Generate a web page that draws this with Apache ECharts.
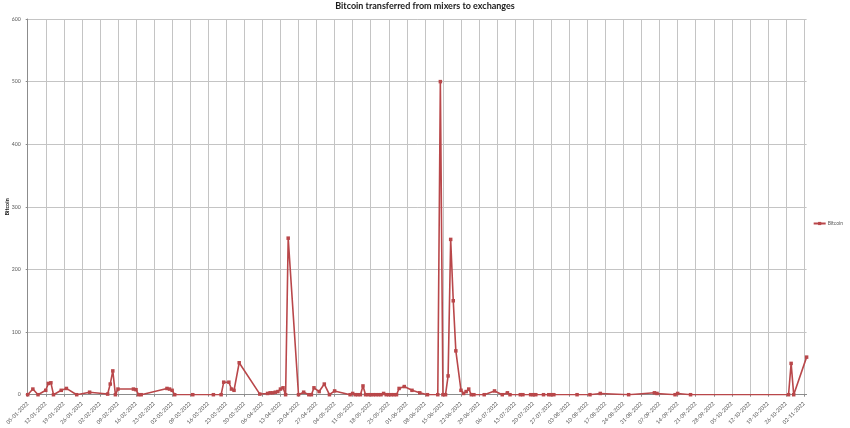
<!DOCTYPE html>
<html>
<head>
<meta charset="utf-8">
<script src="https://cdn.jsdelivr.net/npm/echarts@6/dist/echarts.min.js"></script>
<style>
html,body{margin:0;padding:0;background:#fff;}
#chart{width:850px;height:428px;}
</style>
</head>
<body>
<div id="chart"></div>
<script>
const titleText = 'Bitcoin transferred from mixers to exchanges';
const seriesName = 'Bitcoin';
const yTicks = [0, 100, 200, 300, 400, 500, 600];
const tickLabels = [
  '05-01-2022','12-01-2022','19-01-2022','26-01-2022','02-02-2022','09-02-2022','16-02-2022','23-02-2022',
  '02-03-2022','09-03-2022','16-03-2022','23-03-2022','30-03-2022','06-04-2022','13-04-2022','20-04-2022',
  '27-04-2022','04-05-2022','11-05-2022','18-05-2022','25-05-2022','01-06-2022','08-06-2022','15-06-2022',
  '22-06-2022','29-06-2022','06-07-2022','13-07-2022','20-07-2022','27-07-2022','03-08-2022','10-08-2022',
  '17-08-2022','24-08-2022','31-08-2022','07-09-2022','14-09-2022','21-09-2022','28-09-2022','05-10-2022',
  '12-10-2022','19-10-2022','26-10-2022','02-11-2022'
];
const dates = [
  '05-01-2022','07-01-2022','09-01-2022','12-01-2022','13-01-2022','14-01-2022','15-01-2022','18-01-2022',
  '20-01-2022','24-01-2022','29-01-2022','05-02-2022','06-02-2022','07-02-2022','08-02-2022','09-02-2022',
  '15-02-2022','16-02-2022','17-02-2022','18-02-2022','28-02-2022','01-03-2022','02-03-2022','03-03-2022',
  '10-03-2022','18-03-2022','21-03-2022','22-03-2022','24-03-2022','25-03-2022','26-03-2022','28-03-2022',
  '05-04-2022','08-04-2022','09-04-2022','10-04-2022','11-04-2022','12-04-2022','13-04-2022','14-04-2022',
  '15-04-2022','16-04-2022','20-04-2022','22-04-2022','24-04-2022','25-04-2022','26-04-2022','28-04-2022',
  '30-04-2022','02-05-2022','04-05-2022','10-05-2022','11-05-2022','12-05-2022','13-05-2022','14-05-2022',
  '15-05-2022','16-05-2022','17-05-2022','18-05-2022','19-05-2022','20-05-2022','21-05-2022','22-05-2022',
  '23-05-2022','24-05-2022','25-05-2022','26-05-2022','27-05-2022','28-05-2022','29-05-2022','31-05-2022',
  '03-06-2022','06-06-2022','09-06-2022','13-06-2022','14-06-2022','15-06-2022','16-06-2022','17-06-2022',
  '18-06-2022','19-06-2022','20-06-2022','22-06-2022','23-06-2022','24-06-2022','25-06-2022','26-06-2022',
  '27-06-2022','01-07-2022','05-07-2022','08-07-2022','10-07-2022','11-07-2022','15-07-2022','16-07-2022',
  '19-07-2022','20-07-2022','21-07-2022','24-07-2022','26-07-2022','27-07-2022','28-07-2022','06-08-2022',
  '11-08-2022','15-08-2022','26-08-2022','05-09-2022','06-09-2022','13-09-2022','14-09-2022','19-09-2022',
  '27-10-2022','28-10-2022','29-10-2022','03-11-2022'
];
const bitcoin = [
  0, 9, 0, 7, 18, 19, 0, 7,
  10, 0, 4, 1, 17, 38, 0, 9,
  9, 8, 0, 0, 10, 9, 7, 0,
  0, 0, 0, 20, 20, 9, 7, 51,
  1, 2, 3, 3, 4, 5, 9, 11,
  0, 250, 0, 4, 0, 0, 11, 5,
  17, 0, 6, 0, 2, 0, 0, 0,
  14, 0, 0, 0, 0, 0, 0, 0,
  2, 0, 0, 0, 0, 0, 10, 13,
  7, 3, 0, 0, 500, 0, 0, 30,
  248, 150, 70, 7, 2, 5, 9, 0,
  0, 0, 6, 0, 3, 0, 0, 0,
  0, 0, 0, 0, 0, 0, 0, 0,
  0, 2, 0, 3, 2, 0, 2, 0,
  0, 50, 0, 60
];

const startDate = '05-01-2022';
const endDate = '03-11-2022';
function dayIndex(s) {
  const p = s.split('-').map(Number);
  const s0 = startDate.split('-').map(Number);
  return Math.round((Date.UTC(p[2], p[1] - 1, p[0]) - Date.UTC(s0[2], s0[1] - 1, s0[0])) / 86400000);
}
const points = dates.map((d, i) => [dayIndex(d), bitcoin[i]]);

const chart = echarts.init(document.getElementById('chart'), null, { renderer: 'canvas' });
const lineColor = '#b9474a';
const fontFam = 'Lato';
chart.setOption({
  animation: false,
  backgroundColor: '#ffffff',
  title: {
    text: titleText,
    left: 'center',
    top: 2,
    padding: 0,
    textStyle: { fontFamily: fontFam, fontSize: 9, fontWeight: 'bold', color: '#1a1a1a' }
  },
  legend: {
    data: [seriesName],
    right: 2,
    top: 216,
    orient: 'vertical',
    itemWidth: 12,
    itemHeight: 4,
    itemGap: 2,
    textStyle: { fontFamily: fontFam, fontSize: 5, color: '#595959', padding: [0, 0, 0, -3] }
  },
  grid: { left: 27.7, right: 43.4, top: 19, bottom: 33.3, containLabel: false, outerBoundsMode: 'none' },
  xAxis: {
    type: 'value',
    min: 0,
    max: dayIndex(endDate),
    interval: 7,
    axisLine: { show: true, lineStyle: { color: '#8c8c8c', width: 1 } },
    axisTick: { show: true, length: 2, lineStyle: { color: '#8c8c8c' } },
    splitLine: { show: true, showMaxLine: false, lineStyle: { color: '#c4c4c4', width: 1 } },
    axisLabel: {
      rotate: 45,
      fontSize: 5.4,
      fontFamily: fontFam,
      color: '#595959',
      margin: 8,
      showMaxLabel: false,
      formatter: v => (v % 7 === 0 && tickLabels[v / 7]) ? tickLabels[v / 7] : ''
    }
  },
  yAxis: {
    type: 'value',
    min: yTicks[0],
    max: yTicks[yTicks.length - 1],
    interval: yTicks[1] - yTicks[0],
    name: seriesName,
    nameLocation: 'middle',
    nameRotate: 90,
    nameGap: 17,
    nameMoveOverlap: false,
    nameTextStyle: { fontFamily: fontFam, fontSize: 5.5, fontWeight: 'bold', color: '#222' },
    axisLine: { show: true, lineStyle: { color: '#8c8c8c', width: 1 } },
    axisTick: { show: true, length: 2, lineStyle: { color: '#8c8c8c' } },
    splitLine: { show: true, lineStyle: { color: '#c4c4c4', width: 1 } },
    axisLabel: { fontSize: 5.2, fontFamily: fontFam, color: '#595959', margin: 7 }
  },
  series: [{
    name: seriesName,
    type: 'line',
    data: points,
    symbol: 'rect',
    symbolSize: 3.5,
    showAllSymbol: true,
    lineStyle: { color: lineColor, width: 1.6 },
    itemStyle: { color: lineColor, borderWidth: 0 }
  }]
});
</script>
</body>
</html>
